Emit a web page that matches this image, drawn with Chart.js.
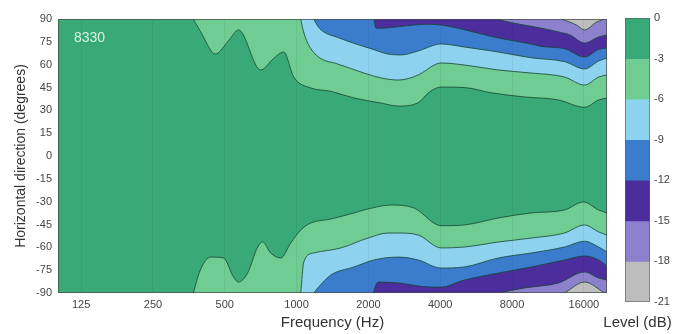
<!DOCTYPE html>
<html>
<head>
<meta charset="utf-8">
<script src="https://cdn.jsdelivr.net/npm/chart.js@4.4.1/dist/chart.umd.min.js"></script>
<style>
  html, body { margin: 0; padding: 0; background: #fff; }
  #wrap { position: relative; width: 673px; height: 334px; }
  #main { position: absolute; left: 0; top: 0; }
  #bar { position: absolute; left: 600px; top: 0; }
</style>
</head>
<body>
<div id="wrap">
  <canvas id="main" width="615" height="334"></canvas>
  <canvas id="bar" width="73" height="334"></canvas>
</div>
<script>
// tick labels
const freqTicks = [125, 250, 500, 1000, 2000, 4000, 8000, 16000];
const levelTicks = [0, -3, -6, -9, -12, -15, -18, -21];
const bandColors = ['#3aa978', '#6fcc92', '#8dd2ee', '#3b7dcc', '#4b2d9c', '#8d80cc', '#bdbdbd'];

// contour boundaries as [frequency (Hz), angle (deg)]
// upper half (positive angles), -3 ... -18 dB
const up3 = [[369,90],[395,82],[457,67],[520,76],[571,82.8],[707,56.5],[800,64],[883,68.3],[973,51.9],[1147,44.7],[1392,42.5],[1739,38.1],[2258,34.8],[2663,32.8],[3232,35],[3600,42],[4036,45.3],[5042,45],[6553,41.5],[9014,38.8],[12530,36.8],[16100,32],[18460,36.8],[20000,38.1]];
const up6 = [[1041,90],[1060,84],[1100,76],[1180,68],[1300,63],[1450,61],[1916,54.5],[2258,51.3],[2663,49.9],[3232,53.2],[3800,60],[4036,61.1],[5042,59.8],[7010,56.5],[9640,54.5],[13260,51.9],[16100,46.6],[18460,51.9],[20000,53.2]];
const up9 = [[1180,90],[1230,85],[1300,81.5],[1480,78],[1739,74],[2050,70.5],[2417,67],[2742,66.4],[3232,69],[4036,73.6],[5042,71.6],[7010,68.3],[9640,64.5],[13260,62],[16100,57.2],[18460,62.4],[20000,64.4]];
const up12 = [[2110,90],[2150,84],[2300,84],[2700,85],[3500,86.5],[4036,86],[5042,83],[6553,78.5],[7010,77.5],[9640,73.5],[10630,72],[13260,70.5],[16100,65],[18460,70],[20000,71]];
const up15 = [[6870,90],[8000,87.5],[9014,86],[10630,84],[12530,81.5],[14000,79.5],[16100,74.2],[18460,78.2],[20000,79.5]];
const up18 = [[12900,90],[14910,86],[16100,82.8],[18100,88],[19560,90]];

// lower half (negative angles)
const lo3 = [[369,-90],[395,-74.9],[436,-66.4],[494,-67],[544,-79.5],[571,-82.8],[623,-76.9],[687,-59.8],[720,-56.5],[779,-63.7],[858,-67],[945,-57.2],[1041,-48.6],[1147,-44],[1392,-41.4],[1739,-37.4],[1916,-35.5],[2488,-32.2],[3108,-34.2],[4036,-45.8],[5042,-45.3],[7010,-40.7],[9640,-37.4],[13260,-35.5],[15960,-30.2],[18460,-35.5],[20000,-37.4]];
const lo6 = [[1041,-90],[1072,-69.6],[1180,-63.7],[1533,-60.4],[1992,-53.9],[2417,-50.6],[2663,-50.6],[3232,-51.9],[4036,-60.4],[5042,-59.8],[7010,-56.5],[9640,-53.9],[13260,-50.6],[16100,-45.3],[18460,-49.9],[20000,-51.9]];
const lo9 = [[1180,-90],[1227,-86.7],[1392,-78.2],[1739,-72.9],[2110,-68.3],[2663,-66.4],[3232,-68.3],[4036,-73.6],[5042,-72.9],[7010,-67],[9640,-63.7],[13260,-59.8],[16100,-56],[18460,-59.8],[20000,-63.1]];
const lo12 = [[2090,-90],[2193,-82.8],[2663,-83.4],[3665,-86.1],[4036,-86.1],[5042,-81.5],[7010,-76.9],[9640,-72.9],[13260,-68.3],[16100,-65.7],[18460,-68.3],[20000,-72.3]];
const lo15 = [[7010,-90],[9014,-86.7],[12530,-83.4],[16100,-76.2],[18460,-80.2],[20000,-81.5]];
const lo18 = [[13260,-90],[16100,-82.8],[19560,-90]];

const upper = [up3, up6, up9, up12, up15, up18];
const lower = [lo3, lo6, lo9, lo12, lo15, lo18];

const FONT = '"Liberation Sans", Arial, sans-serif';

function contour(points, color, edge, order) {
  return {
    data: points.map(p => ({ x: p[0], y: p[1] })),
    backgroundColor: color,
    borderColor: 'rgba(22,70,50,0.8)',
    borderWidth: 1,
    pointRadius: 0,
    fill: edge,
    cubicInterpolationMode: 'monotone',
    order: order
  };
}

const datasets = [];
upper.forEach((pts, i) => datasets.push(contour(pts, bandColors[i + 1], 'end', 10 - i)));
lower.forEach((pts, i) => datasets.push(contour(pts, bandColors[i + 1], 'start', 10 - i)));

const plotDeco = {
  id: 'plotDeco',
  beforeDatasetsDraw(chart) {
    const a = chart.chartArea, ctx = chart.ctx;
    ctx.save();
    ctx.fillStyle = bandColors[0];
    ctx.fillRect(a.left, a.top, a.right - a.left, a.bottom - a.top);
    ctx.restore();
  },
  afterDraw(chart) {
    const a = chart.chartArea, ctx = chart.ctx;
    ctx.save();
    ctx.strokeStyle = 'rgba(70,70,70,0.7)';
    ctx.lineWidth = 1;
    ctx.strokeRect(a.left + 0.5, a.top + 0.5, a.right - a.left - 1, a.bottom - a.top - 1);
    ctx.fillStyle = '#d6f3e0';
    ctx.font = '14px ' + FONT;
    ctx.textBaseline = 'middle';
    ctx.fillText('8330', a.left + 16, a.top + 19);
    ctx.restore();
  }
};

new Chart(document.getElementById('main').getContext('2d'), {
  type: 'line',
  data: { datasets: datasets },
  options: {
    responsive: false,
    animation: false,
    layout: { padding: { top: 19, right: 8, left: 0, bottom: 0 } },
    plugins: { legend: { display: false }, tooltip: { enabled: false } },
    scales: {
      x: {
        type: 'logarithmic',
        min: 100,
        max: 20000,
        afterBuildTicks: s => { s.ticks = freqTicks.map(v => ({ value: v })); },
        afterFit: s => { s.height = 41; },
        ticks: { color: '#444', font: { size: 11, family: FONT }, padding: 5, maxRotation: 0, autoSkip: false,
                 callback: v => String(v) },
        grid: { color: 'rgba(0,0,0,0.05)', drawTicks: false, z: 1 },
        border: { display: false },
        title: { display: true, text: 'Frequency (Hz)', color: '#333', font: { size: 15, family: FONT }, padding: { top: 0, bottom: 2 } }
      },
      y: {
        type: 'linear',
        min: -90,
        max: 90,
        afterFit: s => { s.width = 58; },
        ticks: { stepSize: 15, color: '#444', font: { size: 11, family: FONT }, padding: 6 },
        grid: { display: false, drawTicks: false },
        border: { display: false },
        title: { display: true, text: 'Horizontal direction (degrees)', color: '#333', font: { size: 14, family: FONT }, padding: { top: 13, bottom: 0 } }
      }
    }
  },
  plugins: [plotDeco]
});

// colour bar
const barSets = bandColors.map((c, i) => ({
  data: [[levelTicks[i + 1], levelTicks[i]]],
  backgroundColor: c,
  borderWidth: 0,
  barPercentage: 1,
  categoryPercentage: 1,
  grouped: false
}));

const barFrame = {
  id: 'barFrame',
  afterDraw(chart) {
    const a = chart.chartArea, ctx = chart.ctx;
    ctx.save();
    ctx.strokeStyle = 'rgba(90,90,90,0.6)';
    ctx.strokeRect(a.left + 0.5, a.top + 0.5, a.right - a.left - 1, a.bottom - a.top - 1);
    // axis title drawn here so it is not squeezed to the bar width
    ctx.fillStyle = '#333';
    ctx.font = '15px ' + FONT;
    ctx.textAlign = 'center';
    ctx.textBaseline = 'middle';
    ctx.fillText('Level (dB)', (a.left + a.right) / 2, 323);
    ctx.restore();
  }
};

new Chart(document.getElementById('bar').getContext('2d'), {
  type: 'bar',
  data: { labels: [''], datasets: barSets },
  options: {
    responsive: false,
    animation: false,
    layout: { padding: { top: 18, left: 25, right: 0, bottom: 0 } },
    plugins: { legend: { display: false }, tooltip: { enabled: false } },
    scales: {
      x: {
        afterFit: s => { s.height = 32; },
        ticks: { display: false },
        grid: { display: false, drawTicks: false },
        border: { display: false }
      },
      y: {
        position: 'right',
        min: -21,
        max: 0,
        afterFit: s => { s.width = 23; },
        afterBuildTicks: s => { s.ticks = levelTicks.map(v => ({ value: v })); },
        ticks: { color: '#444', font: { size: 11, family: FONT }, padding: 4 },
        grid: { display: false, drawTicks: false },
        border: { display: false }
      }
    }
  },
  plugins: [barFrame]
});
</script>
</body>
</html>
